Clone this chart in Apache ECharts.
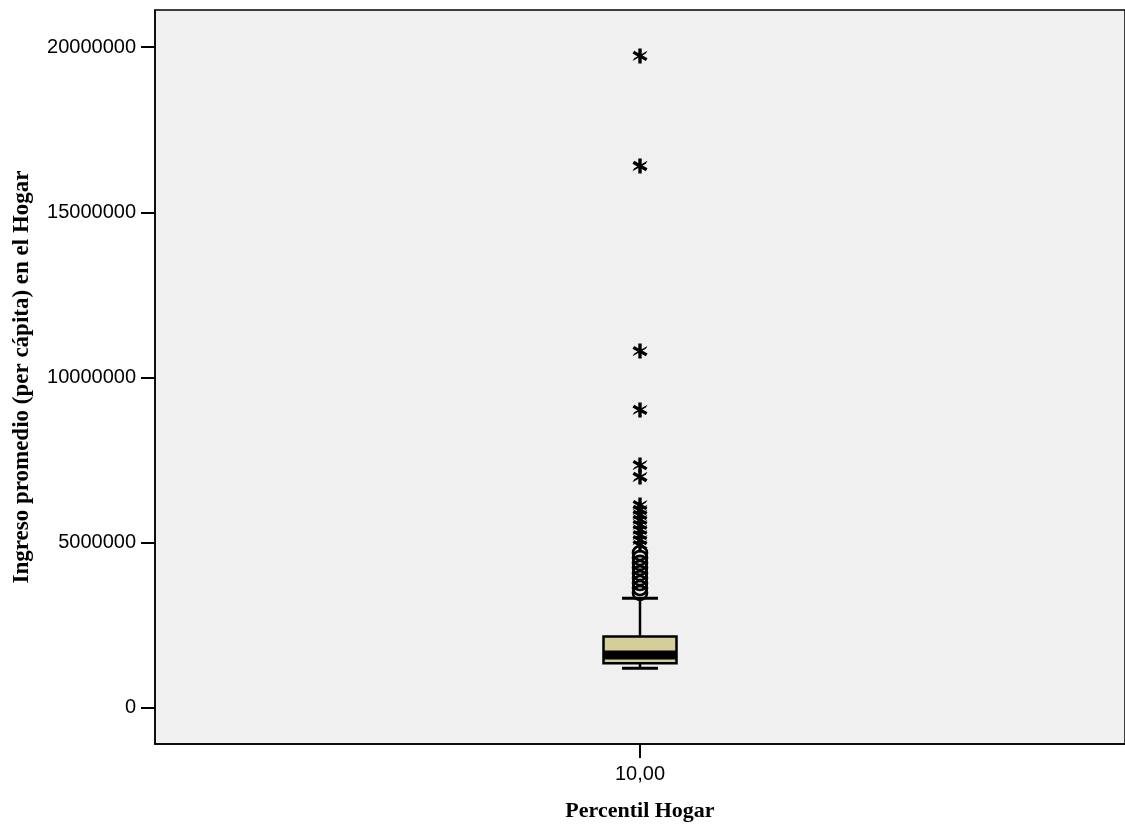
<!DOCTYPE html>
<html><head><meta charset="utf-8">
<script src="https://cdn.jsdelivr.net/npm/echarts@6/dist/echarts.min.js"></script>
<style>html,body{margin:0;padding:0;background:#fff}#c{width:1125px;height:827px}</style>
</head><body><div id="c"></div>
<script>
const categories = ['10,00'];
// [lower whisker, Q1, median, Q3, upper whisker]
const boxStats = [[1200000, 1350000, 1604000, 2160000, 3320000]];
const outliersCircle = [3480000, 3630000, 3780000, 3930000, 4080000, 4240000, 4390000, 4540000, 4690000];
const outliersExtreme = [4930000, 5080000, 5230000, 5390000, 5540000, 5690000, 5840000, 5990000, 6140000,
  6990000, 7350000, 9020000, 10800000, 16400000, 19730000];
const yTickValues = [0, 5000000, 10000000, 15000000, 20000000];
const yTickLabels = ['0', '5000000', '10000000', '15000000', '20000000'];

const starPath = 'path://M39 0L61 0L61 100L39 100Z' +
  'M1 84.5L12 65.5L99 15.5L88 34.5Z' +
  'M1 34.5L12 15.5L99 65.5L88 84.5Z';

const chart = echarts.init(document.getElementById('c'), null, {renderer: 'canvas'});
const option = {
  backgroundColor: '#ffffff',
  animation: false,
  grid: {
    left: 155, top: 10, right: -6, bottom: 83,
    show: true, backgroundColor: '#f0f0f0', borderColor: '#000', borderWidth: 1.5
  },
  xAxis: {
    type: 'category',
    data: categories,
    name: 'Percentil Hogar',
    nameLocation: 'middle',
    nameGap: 56,
    nameTextStyle: {fontFamily: 'Liberation Serif', fontWeight: 'bold', fontSize: 22, color: '#000'},
    axisLine: {show: true, onZero: false, lineStyle: {color: '#000', width: 1.5}},
    axisTick: {show: true, alignWithLabel: true, length: 14, lineStyle: {color: '#000', width: 2}},
    axisLabel: {fontFamily: 'Liberation Sans', fontSize: 20, color: '#000', margin: 20},
    splitLine: {show: false}
  },
  yAxis: {
    type: 'value',
    min: -1090000,
    max: 21120000,
    name: 'Ingreso promedio (per cápita) en el Hogar',
    nameLocation: 'middle',
    nameGap: 121,
    nameTextStyle: {fontFamily: 'Liberation Serif', fontWeight: 'bold', fontSize: 23, color: '#000'},
    axisLine: {show: true, onZero: false, lineStyle: {color: '#000', width: 1.5}},
    axisTick: {show: true, length: 14, customValues: yTickValues, lineStyle: {color: '#000', width: 2}},
    axisLabel: {
      customValues: yTickValues,
      fontFamily: 'Liberation Sans', fontSize: 20, color: '#000', margin: 19,
      formatter: function (v) { const i = yTickValues.indexOf(v); return i >= 0 ? yTickLabels[i] : ''; }
    },
    splitLine: {show: false}
  },
  series: [
    {
      type: 'custom',
      data: boxStats.map((s, i) => [i].concat(s)),
      encode: {x: 0, y: [1, 2, 3, 4, 5]},
      z: 2,
      renderItem: function (params, api) {
        const x = api.value(0);
        const lo = api.coord([x, api.value(1)]);
        const q1 = api.coord([x, api.value(2)]);
        const med = api.coord([x, api.value(3)]);
        const q3 = api.coord([x, api.value(4)]);
        const hi = api.coord([x, api.value(5)]);
        const cx = lo[0], bw = 73, cw = 36;
        const ls = {stroke: '#000', lineWidth: 2.5};
        return {type: 'group', children: [
          {type: 'line', shape: {x1: cx, y1: q3[1], x2: cx, y2: hi[1]}, style: ls},
          {type: 'line', shape: {x1: cx, y1: q1[1], x2: cx, y2: lo[1]}, style: ls},
          {type: 'line', shape: {x1: cx - cw / 2, y1: hi[1], x2: cx + cw / 2, y2: hi[1]}, style: {stroke: '#000', lineWidth: 3}},
          {type: 'line', shape: {x1: cx - cw / 2, y1: lo[1], x2: cx + cw / 2, y2: lo[1]}, style: {stroke: '#000', lineWidth: 3}},
          {type: 'rect', shape: {x: cx - bw / 2, y: q3[1], width: bw, height: q1[1] - q3[1]}, style: {fill: '#d4cf99', stroke: '#000', lineWidth: 2.5}},
          {type: 'line', shape: {x1: cx - bw / 2, y1: med[1], x2: cx + bw / 2, y2: med[1]}, style: {stroke: '#000', lineWidth: 9}}
        ]};
      }
    },
    {
      type: 'scatter',
      data: outliersCircle.map(v => [0, v]),
      symbol: 'circle',
      symbolSize: 14,
      z: 3,
      itemStyle: {color: 'rgba(0,0,0,0)', borderColor: '#000', borderWidth: 2.6, opacity: 1}
    },
    {
      type: 'scatter',
      data: outliersExtreme.map(v => [0, v]),
      symbol: starPath,
      symbolSize: [15, 15],
      z: 3,
      itemStyle: {color: '#000', opacity: 1}
    }
  ]
};
chart.setOption(option);
</script>
</body></html>
